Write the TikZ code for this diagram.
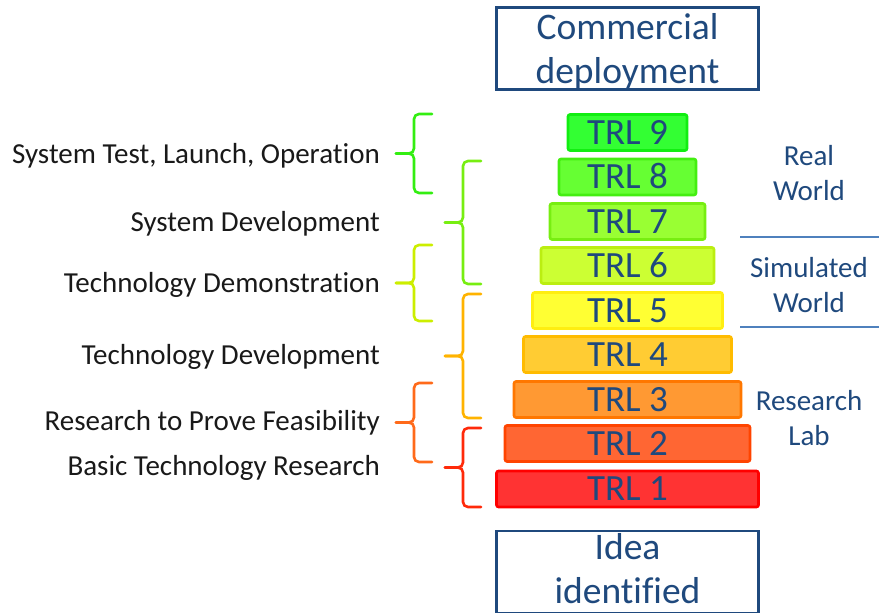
\documentclass[tikz,border=0pt]{standalone}
\usepackage{fontspec}
\setmainfont{Carlito}[Ligatures=NoCommon]
\usepackage{tikz}
\definecolor{navy}{HTML}{1F497D}
\definecolor{rule}{HTML}{4F81BD}
\definecolor{f9}{HTML}{33FF33}\definecolor{d9}{HTML}{11EE11}
\definecolor{f8}{HTML}{66FF33}\definecolor{d8}{HTML}{44EE11}
\definecolor{f7}{HTML}{99FF33}\definecolor{d7}{HTML}{77EE11}
\definecolor{f6}{HTML}{CCFF33}\definecolor{d6}{HTML}{BBEE11}
\definecolor{f5}{HTML}{FFFF33}\definecolor{d5}{HTML}{FFEE11}
\definecolor{f4}{HTML}{FFCC33}\definecolor{d4}{HTML}{FFBB00}
\definecolor{f3}{HTML}{FF9933}\definecolor{d3}{HTML}{FF7700}
\definecolor{f2}{HTML}{FF6633}\definecolor{d2}{HTML}{FF4400}
\definecolor{f1}{HTML}{FF3333}\definecolor{d1}{HTML}{FF0000}
\definecolor{bA}{HTML}{33EE11}
\definecolor{bB}{HTML}{77EE11}
\definecolor{bC}{HTML}{CCEE00}
\definecolor{bD}{HTML}{FFB300}
\definecolor{bE}{HTML}{FF6A1A}
\definecolor{bF}{HTML}{FF2A0A}
\newcommand{\fs}[2]{\fontsize{#1}{#2}\selectfont}
% brace: colour, tip x, top y, bottom y
\newcommand{\brc}[4]{%
   \draw[#1, brc] (#2+36,#3) -- (#2+18,#3) -- (#2+18,{(#3+#4)/2}) -- (#2,{(#3+#4)/2});
   \draw[#1, brc] (#2+36,#4) -- (#2+18,#4) -- (#2+18,{(#3+#4)/2}) -- (#2,{(#3+#4)/2});}

\begin{document}
\begin{tikzpicture}[x=1pt, y=-1pt,
   trl/.style={draw, line width=2.6pt, rounded corners=2pt, minimum height=36pt,
      inner sep=0pt, text=navy, font=\fs{37}{44}, text height=23.5pt, text depth=0pt},
   endbox/.style={draw=navy, line width=2.6pt, minimum width=262pt, minimum height=82pt,
      inner sep=0pt},
   endtxt/.style={inner sep=0pt, text=navy, align=center, font=\fs{37.5}{44}},
   lbl/.style={anchor=base east, inner sep=0pt, font=\fs{29}{33}, text=black!90},
   world/.style={align=center, inner sep=0pt, text=navy, font=\fs{29}{35}},
   brc/.style={line width=2.6pt, rounded corners=5pt, line cap=round}]
   \useasboundingbox (0,0) rectangle (879,613);

   % end points
   \node[endbox] (comm) at (627.5,48.5) {};
   \node[endtxt] (commt) at (627.5,51.5) {Commercial\\deployment};
   \node[endbox] (idea) at (627.5,572) {};
   \node[endtxt] (ideat) at (627.5,569) {Idea\\identified};

   % levels
   \node[trl, fill=f9, draw=d9, minimum width=119pt] (trl9) at (627.5,132.5) {TRL 9};
   \node[trl, fill=f8, draw=d8, minimum width=137pt] (trl8) at (627.5,177.0) {TRL 8};
   \node[trl, fill=f7, draw=d7, minimum width=155pt] (trl7) at (627.5,221.5) {TRL 7};
   \node[trl, fill=f6, draw=d6, minimum width=173pt] (trl6) at (627.5,265.5) {TRL 6};
   \node[trl, fill=f5, draw=d5, minimum width=190pt] (trl5) at (627.5,310.5) {TRL 5};
   \node[trl, fill=f4, draw=d4, minimum width=208pt] (trl4) at (627.5,354.5) {TRL 4};
   \node[trl, fill=f3, draw=d3, minimum width=227pt] (trl3) at (627.5,399.5) {TRL 3};
   \node[trl, fill=f2, draw=d2, minimum width=245pt] (trl2) at (627.5,443.5) {TRL 2};
   \node[trl, fill=f1, draw=d1, minimum width=262pt] (trl1) at (627.5,489.0) {TRL 1};

   % phases
   \node[lbl] (ph9) at (380,163) {System Test, Launch, Operation};
   \node[lbl] (ph7) at (380,231) {System Development};
   \node[lbl] (ph6) at (380,292) {Technology Demonstration};
   \node[lbl] (ph4) at (380,364) {Technology Development};
   \node[lbl] (ph3) at (380,430) {Research to Prove Feasibility};
   \node[lbl] (ph1) at (380,475) {Basic Technology Research};

   \brc{bA}{396}{114}{193}
   \brc{bB}{445}{161}{284}
   \brc{bC}{396}{245}{321}
   \brc{bD}{445}{294}{418}
   \brc{bE}{396}{383}{462}
   \brc{bF}{445}{428}{507}

   % environments
   \node[world] (real) at (809,173) {Real\\World};
   \node[world] (sim)  at (809,285) {Simulated\\World};
   \node[world] (lab)  at (809,418) {Research\\Lab};
   \coordinate (s1) at (740,237);
   \coordinate (s2) at (740,327);
   \draw[rule, line width=1.6pt] (s1) -- (879,237);
   \draw[rule, line width=1.6pt] (s2) -- (879,327);
\end{tikzpicture}
\end{document}
